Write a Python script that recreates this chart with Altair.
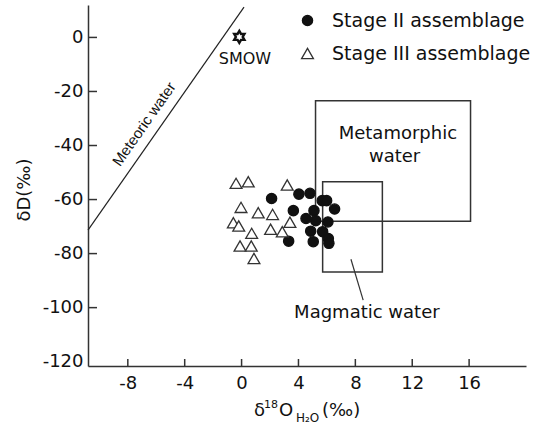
import altair as alt
import pandas as pd

# ---- data ----
stage2_x = [2.11, 4.03, 4.81, 5.67, 5.98, 6.54, 3.64, 5.09, 4.53, 5.21, 6.07, 4.86, 5.70, 3.31, 5.04, 6.10, 6.14]
stage2_y = [-59.6, -58.0, -57.7, -60.4, -60.4, -63.5, -64.1, -64.1, -67.0, -67.8, -68.3, -71.7, -71.9, -75.4, -75.6, -74.4, -76.2]
stage3_x = [-0.39, 0.47, -0.04, 1.17, 2.18, -0.58, -0.20, 0.71, 2.04, -0.11, 0.68, 0.87, 3.21, 3.40, 2.86]
stage3_y = [-54.0, -53.4, -62.9, -64.9, -65.5, -68.6, -69.8, -72.5, -71.0, -77.2, -77.2, -81.8, -54.6, -68.4, -71.9]
series_names = ["Stage II assemblage", "Stage III assemblage"]

box_names = ["Metamorphic", "Magmatic"]
box_x1 = [5.2, 5.7]
box_x2 = [16.1, 9.9]
box_y1 = [-68.0, -86.8]
box_y2 = [-23.4, -53.4]

meteoric_x = [-10.8, 0.17]
meteoric_y = [-71.3, 11.2]
pointer_x = [7.69, 8.55]
pointer_y = [-82.1, -97.2]
smow_x = [-0.16]
smow_y = [0.2]

x_ticks = [-8, -4, 0, 4, 8, 12, 16]
y_ticks = [-120, -100, -80, -60, -40, -20, 0]
x_domain = [-10.8, 20]
y_domain = [-121.6, 12]

W, H = 438, 361
FONT = "DejaVu Sans"

pts = pd.DataFrame({
    "x": stage2_x + stage3_x,
    "y": stage2_y + stage3_y,
    "stage": [series_names[0]] * len(stage2_x) + [series_names[1]] * len(stage3_x),
})
boxes = pd.DataFrame({"name": box_names, "x1": box_x1, "x2": box_x2, "y1": box_y1, "y2": box_y2})
met = pd.DataFrame({"x": meteoric_x, "y": meteoric_y})
ptr = pd.DataFrame({"x": pointer_x, "y": pointer_y})
smow = pd.DataFrame({"x": smow_x, "y": smow_y})

xs = alt.Scale(domain=x_domain, nice=False, zero=False)
ys = alt.Scale(domain=y_domain, nice=False, zero=False)
hyphen_labels = "(datum.value < 0 ? '-' : '') + abs(datum.value)"
ax_x = alt.Axis(values=x_ticks, title=None, ticks=False, tickSize=0, labelPadding=8,
                domainColor="#333", domainWidth=1.5, grid=False, labelExpr=hyphen_labels,
                labelFont=FONT, labelFontSize=18, labelColor="#111")
ax_y = alt.Axis(values=y_ticks, title=None, ticks=False, tickSize=0, labelPadding=5,
                domainColor="#333", domainWidth=1.5, grid=False, labelExpr=hyphen_labels,
                labelFont=FONT, labelFontSize=18, labelColor="#111")


def X(f):
    return alt.X(f, scale=xs, axis=ax_x)


def Y(f):
    return alt.Y(f, scale=ys, axis=ax_y)


box_layer = alt.Chart(boxes).mark_rect(fillOpacity=0, stroke="#333", strokeWidth=1.5).encode(
    x=X("x1:Q"), x2="x2:Q", y=Y("y1:Q"), y2="y2:Q")

met_layer = alt.Chart(met).mark_line(color="#222", strokeWidth=1.2).encode(x=X("x:Q"), y=Y("y:Q"))
ptr_layer = alt.Chart(ptr).mark_line(color="#333", strokeWidth=1.2).encode(x=X("x:Q"), y=Y("y:Q"))

hexagram = ("M0,-1L0.289,-0.5L0.866,-0.5L0.577,0L0.866,0.5L0.289,0.5L0,1L-0.289,0.5"
            "L-0.866,0.5L-0.577,0L-0.866,-0.5L-0.289,-0.5Z")
smow_layer = alt.Chart(smow).mark_point(shape=hexagram, size=140, fill="white", fillOpacity=1,
                                        stroke="#111", strokeWidth=2.4, opacity=1).encode(
    x=X("x:Q"), y=Y("y:Q"))

pt_layer = alt.Chart(pts).mark_point(opacity=1, fillOpacity=1, strokeWidth=1.3).encode(
    x=X("x:Q"), y=Y("y:Q"),
    shape=alt.Shape("stage:N", scale=alt.Scale(domain=series_names, range=["circle", "triangle-up"]),
                    legend=alt.Legend(title=None, orient="none", legendX=210, legendY=6, padding=0,
                                      labelFont=FONT, labelFontSize=19, labelColor="#111",
                                      labelLimit=0, labelOffset=15, rowPadding=13,
                                      symbolStrokeWidth=1.3)),
    fill=alt.Fill("stage:N", scale=alt.Scale(domain=series_names, range=["#111", "white"])),
    stroke=alt.Stroke("stage:N", scale=alt.Scale(domain=series_names, range=["#111", "#333"])),
    size=alt.Size("stage:N", scale=alt.Scale(domain=series_names, range=[105, 140])),
)

xtick_layer = alt.Chart(pd.DataFrame({"v": x_ticks})).mark_rule(color="#333", strokeWidth=1.5).encode(
    x=X("v:Q"), y=alt.value(H), y2=alt.value(H - 7))
ytick_layer = alt.Chart(pd.DataFrame({"v": [t for t in y_ticks if t > -120]})).mark_rule(
    color="#333", strokeWidth=1.5).encode(y=Y("v:Q"), x=alt.value(0), x2=alt.value(9))


def data_text(label, x, y, size, angle=0, font=FONT):
    return alt.Chart(pd.DataFrame({"label": [label], "x": [x], "y": [y]})).mark_text(
        font=font, fontSize=size, color="#111", align="center", baseline="middle", angle=angle
    ).encode(x=X("x:Q"), y=Y("y:Q"), text="label:N")


def px_text(label, px, py, size, align="left", baseline="alphabetic", angle=0):
    return alt.Chart(pd.DataFrame({"label": [label]})).mark_text(
        font=FONT, fontSize=size, color="#111", align=align, baseline=baseline, angle=angle
    ).encode(x=alt.value(px), y=alt.value(py), text="label:N")


texts = [
    data_text("Metamorphic", 10.99, -35.9, 18),
    data_text("water", 10.76, -44.4, 18),
    data_text("Magmatic water", 8.81, -102.1, 18),
    data_text("SMOW", 0.24, -8.0, 16),
    data_text("Meteoric water", -6.86, -32.1, 15, angle=305, font="Liberation Sans"),
    # x-axis title: δ18O(H2O)(‰)
    px_text("δ", 166, 411, 18),
    px_text("18", 176, 403, 11),
    px_text("O", 191, 411, 18),
    px_text("H₂O", 208, 417, 12),
    px_text("(‰)", 234, 411, 18),
    # y-axis title
    px_text("δD(‰)", -63, 185, 18, align="center", baseline="middle", angle=270),
]

chart = alt.layer(
    box_layer, met_layer, ptr_layer, smow_layer, xtick_layer, ytick_layer, pt_layer, *texts
).properties(
    width=W, height=H,
    autosize=alt.AutoSizeParams(type="none"),
    padding={"left": 88, "top": 5, "right": 22, "bottom": 58},
).configure_view(stroke=None)

chart.save("out.html", embed_options={"renderer": "svg", "actions": False})
